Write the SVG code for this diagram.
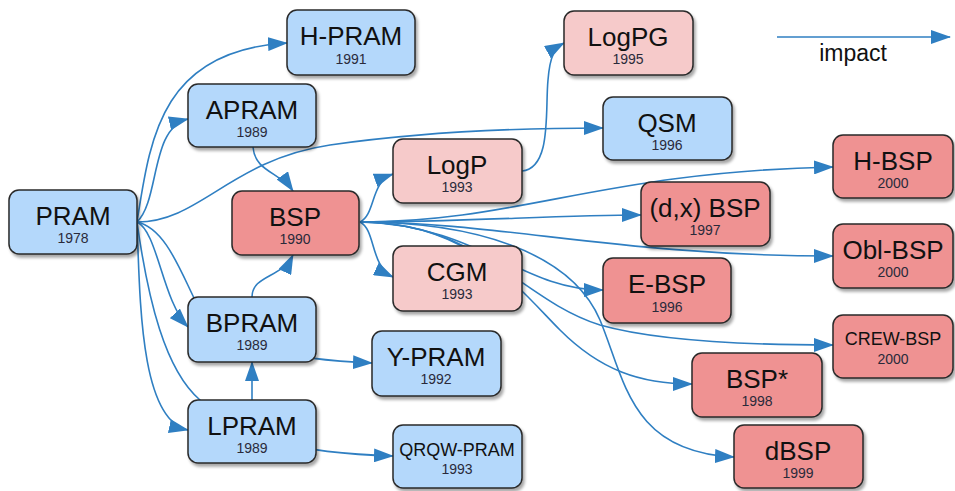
<svg xmlns="http://www.w3.org/2000/svg" width="955" height="491" viewBox="0 0 955 491">
<defs>
<marker id="arr" markerUnits="userSpaceOnUse" markerWidth="20" markerHeight="14" refX="19" refY="7" orient="auto">
<path d="M0,0 L20,7 L0,14 z" fill="#2f7fc2"/>
</marker>
<filter id="sh" x="-10%" y="-10%" width="130%" height="140%">
<feDropShadow dx="2" dy="3" stdDeviation="1.8" flood-color="#000" flood-opacity="0.35"/>
</filter>
<style>
.box{stroke:#2a2a2a;stroke-width:1.5;filter:url(#sh)}
.blue{fill:#b4d8fb}
.pink{fill:#f6caca}
.red{fill:#ef9292}
.t{font-family:"Liberation Sans",Arial,sans-serif;font-size:26px;fill:#111;text-anchor:middle}
.ts{font-family:"Liberation Sans",Arial,sans-serif;font-size:18px;fill:#111;text-anchor:middle}
.y{font-family:"Liberation Sans",Arial,sans-serif;font-size:14px;fill:#2a2a3a;text-anchor:middle}
.e{fill:none;stroke:#2f7fc2;stroke-width:1.6}
.ea{fill:none;stroke:#2f7fc2;stroke-width:1.6;marker-end:url(#arr)}
.leg{font-family:"Liberation Sans",Arial,sans-serif;font-size:23px;fill:#111;text-anchor:middle}
</style>
</defs>
<rect width="955" height="491" fill="#fff"/>
<g id="connectors">
<path class="ea" d="M137,222 C150,140 160,50 287,43"/>
<path class="ea" d="M137,222 C160,200 150,128 188,119"/>
<path class="ea" d="M137,222 C200,222 230,160 330,145 C420,132 520,128 603,128"/>
<path class="ea" d="M137,222 C158,232 162,300 188,327"/>
<path class="ea" d="M137,222 C140,300 140,420 188,430"/>
<path class="ea" d="M137,222 C165,228 180,270 195,300 C220,350 300,360 372,363"/>
<path class="ea" d="M137,222 C148,300 165,370 200,400 C240,440 300,453 393,456"/>
<path class="ea" d="M253,147 C255,172 280,172 293,191"/>
<path class="ea" d="M252,297 C252,275 282,278 293,255"/>
<path class="ea" d="M252,400 L252,362"/>
<path class="ea" d="M360,222 C376,214 370,182 393,174"/>
<path class="ea" d="M360,222 C376,230 370,266 393,277"/>
<path class="ea" d="M360,222 C460,222 560,215 641,215"/>
<path class="ea" d="M360,222 C520,222 600,172 833,167"/>
<path class="ea" d="M360,222 C500,222 620,256 833,256"/>
<path class="ea" d="M360,222 C480,225 520,290 603,290"/>
<path class="ea" d="M360,222 C480,222 520,300 600,325 C660,342 760,345 833,345"/>
<path class="ea" d="M360,222 C470,222 520,290 560,330 C600,370 640,384 692,384"/>
<path class="ea" d="M360,222 C470,222 570,250 600,320 C625,380 630,452 734,457"/>
<path class="ea" d="M522,171 C552,168 545,110 548,80 C550,55 555,48 564,43"/>
<path class="ea" d="M777,37 L950,37"/>
</g>
<g id="PRAM"><rect class="box blue" x="9" y="190" width="128" height="64" rx="10"/><text class="t" x="73" y="225">PRAM</text><text class="y" x="73" y="243">1978</text></g>
<g id="H-PRAM"><rect class="box blue" x="287" y="10" width="128" height="65" rx="10"/><text class="t" x="351" y="45">H-PRAM</text><text class="y" x="351" y="64">1991</text></g>
<g id="APRAM"><rect class="box blue" x="188" y="84" width="128" height="63" rx="10"/><text class="t" x="252" y="119">APRAM</text><text class="y" x="252" y="137">1989</text></g>
<g id="BSP"><rect class="box red" x="232" y="191" width="127" height="64" rx="10"/><text class="t" x="295" y="226">BSP</text><text class="y" x="295" y="244">1990</text></g>
<g id="BPRAM"><rect class="box blue" x="188" y="297" width="128" height="65" rx="10"/><text class="t" x="252" y="332">BPRAM</text><text class="y" x="252" y="350">1989</text></g>
<g id="LPRAM"><rect class="box blue" x="188" y="400" width="128" height="63" rx="10"/><text class="t" x="252" y="435">LPRAM</text><text class="y" x="252" y="453">1989</text></g>
<g id="LogP"><rect class="box pink" x="393" y="139" width="129" height="64" rx="10"/><text class="t" x="457" y="174">LogP</text><text class="y" x="457" y="192">1993</text></g>
<g id="LogPG"><rect class="box pink" x="564" y="11" width="129" height="64" rx="10"/><text class="t" x="628" y="46">LogPG</text><text class="y" x="628" y="64">1995</text></g>
<g id="QSM"><rect class="box blue" x="603" y="97" width="129" height="63" rx="10"/><text class="t" x="667" y="132">QSM</text><text class="y" x="667" y="150">1996</text></g>
<g id="CGM"><rect class="box pink" x="393" y="246" width="129" height="65" rx="10"/><text class="t" x="457" y="281">CGM</text><text class="y" x="457" y="299">1993</text></g>
<g id="Y-PRAM"><rect class="box blue" x="372" y="331" width="129" height="65" rx="10"/><text class="t" x="436" y="366">Y-PRAM</text><text class="y" x="436" y="384">1992</text></g>
<g id="QRQW-PRAM"><rect class="box blue" x="393" y="425" width="129" height="63" rx="10"/><text class="ts" x="457" y="456">QRQW-PRAM</text><text class="y" x="457" y="474">1993</text></g>
<g id="dx-BSP"><rect class="box red" x="641" y="182" width="129" height="64" rx="10"/><text class="t" x="705" y="217">(d,x) BSP</text><text class="y" x="705" y="235">1997</text></g>
<g id="E-BSP"><rect class="box red" x="603" y="258" width="128" height="65" rx="10"/><text class="t" x="667" y="293">E-BSP</text><text class="y" x="667" y="312">1996</text></g>
<g id="H-BSP"><rect class="box red" x="833" y="135" width="120" height="63" rx="10"/><text class="t" x="893" y="170">H-BSP</text><text class="y" x="893" y="188">2000</text></g>
<g id="Obl-BSP"><rect class="box red" x="833" y="224" width="120" height="64" rx="10"/><text class="t" x="893" y="259">Obl-BSP</text><text class="y" x="893" y="277">2000</text></g>
<g id="CREW-BSP"><rect class="box red" x="833" y="315" width="120" height="63" rx="10"/><text class="ts" x="893" y="345">CREW-BSP</text><text class="y" x="893" y="364">2000</text></g>
<g id="BSP-star"><rect class="box red" x="692" y="353" width="130" height="64" rx="10"/><text class="t" x="757" y="388">BSP*</text><text class="y" x="757" y="406">1998</text></g>
<g id="dBSP"><rect class="box red" x="734" y="425" width="129" height="63" rx="10"/><text class="t" x="798" y="460">dBSP</text><text class="y" x="798" y="478">1999</text></g>
<g id="legend"><text class="leg" x="853" y="61">impact</text></g>
</svg>
